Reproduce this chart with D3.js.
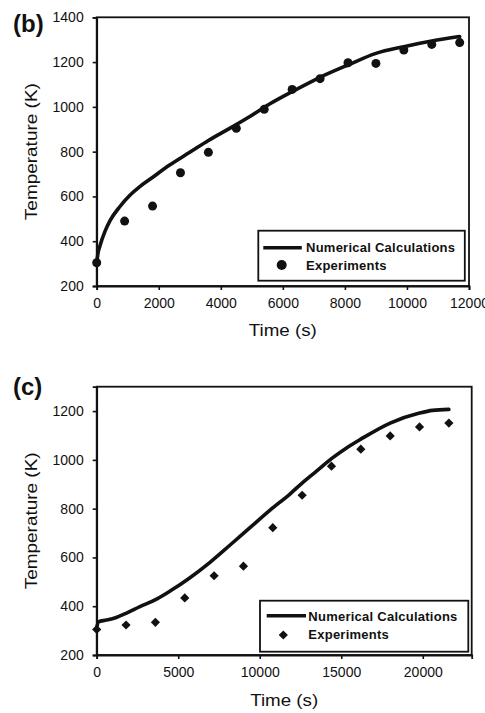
<!DOCTYPE html>
<html><head><meta charset="utf-8">
<script src="https://cdn.jsdelivr.net/npm/d3@7"></script>
<style>
html,body{margin:0;padding:0;background:#fff;}
svg{display:block;}
text{font-family:"Liberation Sans",Arial,sans-serif;fill:#111;}
</style></head>
<body>
<svg id="chart" width="485" height="713"></svg>
<script>
// ---------- Panel (b) data ----------
const bCurveTime = [0, 40, 106, 270, 430, 750, 1070, 1400, 1750, 2350, 3000, 3600, 4300, 4950, 5600, 6300, 7200, 8100, 9000, 9900, 10800, 11700];
const bCurveTemp = [300, 345, 380, 445, 492, 555, 605, 645, 680, 740, 797, 850, 905, 958, 1015, 1068, 1132, 1187, 1239, 1269, 1294, 1314];
const bExpTime = [0, 900, 1800, 2700, 3600, 4500, 5400, 6300, 7200, 8100, 9000, 9900, 10800, 11700];
const bExpTemp = [304, 490, 557, 706, 797, 904, 989, 1078, 1126, 1197, 1194, 1254, 1279, 1287];
const bXTicks = [0, 2000, 4000, 6000, 8000, 10000, 12000];
const bYTicks = [200, 400, 600, 800, 1000, 1200, 1400];

// ---------- Panel (c) data ----------
const cCurveTime = [0, 100, 600, 1200, 1800, 2650, 3700, 4500, 5700, 6950, 8200, 9400, 10650, 11850, 12650, 13500, 14400, 15300, 16200, 18000, 19800, 20600, 21600];
const cCurveTemp = [310, 336, 343, 354, 371, 398, 430, 462, 516, 580, 652, 722, 795, 860, 908, 955, 1005, 1048, 1085, 1151, 1192, 1203, 1207];
const cExpTime = [0, 1800, 3600, 5400, 7200, 9000, 10800, 12600, 14400, 16200, 18000, 19800, 21600];
const cExpTemp = [305, 323, 334, 434, 525, 564, 722, 855, 974, 1044, 1098, 1135, 1151];
const cXTicks = [0, 5000, 10000, 15000, 20000];
const cYTicks = [200, 400, 600, 800, 1000, 1200];

const legendLabels = ["Numerical Calculations", "Experiments"];
const xTitle = "Time (s)";
const yTitle = "Temperature (K)";

const svg = d3.select("#chart");
const ink = "#111";

function diamondPath(r){ return `M0,${-r}L${r},0L0,${r}L${-r},0Z`; }

function drawPanel(o){
  const g = svg.append("g");
  const x = d3.scaleLinear().domain(o.xDomain).range([o.left, o.right]);
  const y = d3.scaleLinear().domain(o.yDomain).range([o.bottom, o.top]);

  // frame
  g.append("rect").attr("x", o.left).attr("y", o.top)
    .attr("width", o.right - o.left).attr("height", o.bottom - o.top)
    .attr("fill", "none").attr("stroke", ink).attr("stroke-width", 1.8);

  const xAxis = d3.axisBottom(x).tickValues(o.xTicks).tickSize(4).tickPadding(8).tickFormat(d3.format("d"));
  const yAxis = d3.axisLeft(y).tickValues(o.yTicks).tickSize(4).tickPadding(9).tickFormat(d3.format("d"));

  const gx = g.append("g").attr("transform", `translate(0,${o.bottom})`).call(xAxis);
  const gy = g.append("g").attr("transform", `translate(${o.left},0)`).call(yAxis);
  [gx, gy].forEach(a => {
    a.select(".domain").attr("stroke", ink).attr("stroke-width", 1.8);
    a.selectAll(".tick line").attr("stroke", ink).attr("stroke-width", 1.6);
    a.selectAll(".tick text").attr("font-size", 14).attr("fill", ink)
      .style("font-family", '"Liberation Sans",Arial,sans-serif');
  });

  // titles
  g.append("text").attr("x", (o.left + o.right) / 2).attr("y", o.xTitleY)
    .attr("text-anchor", "middle").attr("font-size", 17)
    .attr("textLength", 68).attr("lengthAdjust", "spacingAndGlyphs").text(xTitle);
  g.append("text").attr("transform", `translate(${o.yTitleX},${(o.top + o.bottom) / 2}) rotate(-90)`)
    .attr("text-anchor", "middle").attr("font-size", 17)
    .attr("textLength", 137).attr("lengthAdjust", "spacingAndGlyphs").text(yTitle);
  g.append("text").attr("x", 13).attr("y", o.labelY).attr("font-size", 24)
    .attr("font-weight", "bold").text(o.label);

  // curve
  const line = d3.line().x(d => x(d[0])).y(d => y(d[1])).curve(d3.curveMonotoneX);
  const curveData = o.curveT.map((t, i) => [t, o.curveV[i]]);
  g.append("path").datum(curveData).attr("d", line)
    .attr("fill", "none").attr("stroke", ink).attr("stroke-width", 3.6)
    .attr("stroke-linejoin", "round").attr("stroke-linecap", "round");

  // experiments
  const pts = o.expT.map((t, i) => [t, o.expV[i]]);
  if (o.marker === "circle") {
    g.selectAll("circle.exp").data(pts).join("circle").attr("class", "exp")
      .attr("cx", d => x(d[0])).attr("cy", d => y(d[1])).attr("r", 4.5).attr("fill", ink);
  } else {
    g.selectAll("path.exp").data(pts).join("path").attr("class", "exp")
      .attr("transform", d => `translate(${x(d[0])},${y(d[1])})`)
      .attr("d", diamondPath(4.6)).attr("fill", ink);
  }

  // legend
  const L = o.legend;
  g.append("rect").attr("x", L.x).attr("y", L.y).attr("width", L.w).attr("height", L.h)
    .attr("fill", "#fff").attr("stroke", ink).attr("stroke-width", 1.8);
  g.append("line").attr("x1", L.x + L.lx1).attr("x2", L.x + L.lx2)
    .attr("y1", L.y + L.ly).attr("y2", L.y + L.ly)
    .attr("stroke", ink).attr("stroke-width", 3.6);
  g.append("text").attr("x", L.x + L.tx).attr("y", L.y + L.t1y)
    .attr("font-size", 13).attr("font-weight", "bold").attr("letter-spacing", 0.25).text(legendLabels[0]);
  g.append("text").attr("x", L.x + L.tx).attr("y", L.y + L.t2y)
    .attr("font-size", 13).attr("font-weight", "bold").attr("letter-spacing", 0.25).text(legendLabels[1]);
  if (o.marker === "circle") {
    g.append("circle").attr("cx", L.x + L.mx).attr("cy", L.y + L.my).attr("r", 5).attr("fill", ink);
  } else {
    g.append("path").attr("transform", `translate(${L.x + L.mx},${L.y + L.my})`)
      .attr("d", diamondPath(4.6)).attr("fill", ink);
  }
}

drawPanel({
  label: "(b)", labelY: 31.5,
  left: 96.7, right: 469, top: 17.3, bottom: 286,
  xDomain: [0, 12000], yDomain: [200, 1400],
  xTicks: bXTicks, yTicks: bYTicks,
  xTitleY: 336, yTitleX: 36.5,
  curveT: bCurveTime, curveV: bCurveTemp,
  expT: bExpTime, expV: bExpTemp, marker: "circle",
  legend: {x: 258.3, y: 230.7, w: 206.5, h: 50, lx1: 5, lx2: 43.5, ly: 17,
           tx: 47.7, t1y: 21, t2y: 39, mx: 23.4, my: 34.3}
});

drawPanel({
  label: "(c)", labelY: 395,
  left: 96.7, right: 471.7, top: 386.7, bottom: 655,
  xDomain: [0, 23000], yDomain: [200, 1300],
  xTicks: cXTicks, yTicks: cYTicks,
  xTitleY: 706, yTitleX: 36.5,
  curveT: cCurveTime, curveV: cCurveTemp,
  expT: cExpTime, expV: cExpTemp, marker: "diamond",
  legend: {x: 260, y: 600.7, w: 208.3, h: 51, lx1: 6.7, lx2: 46, ly: 15,
           tx: 48.3, t1y: 20, t2y: 38, mx: 23.3, my: 34.3}
});
</script>
</body></html>
